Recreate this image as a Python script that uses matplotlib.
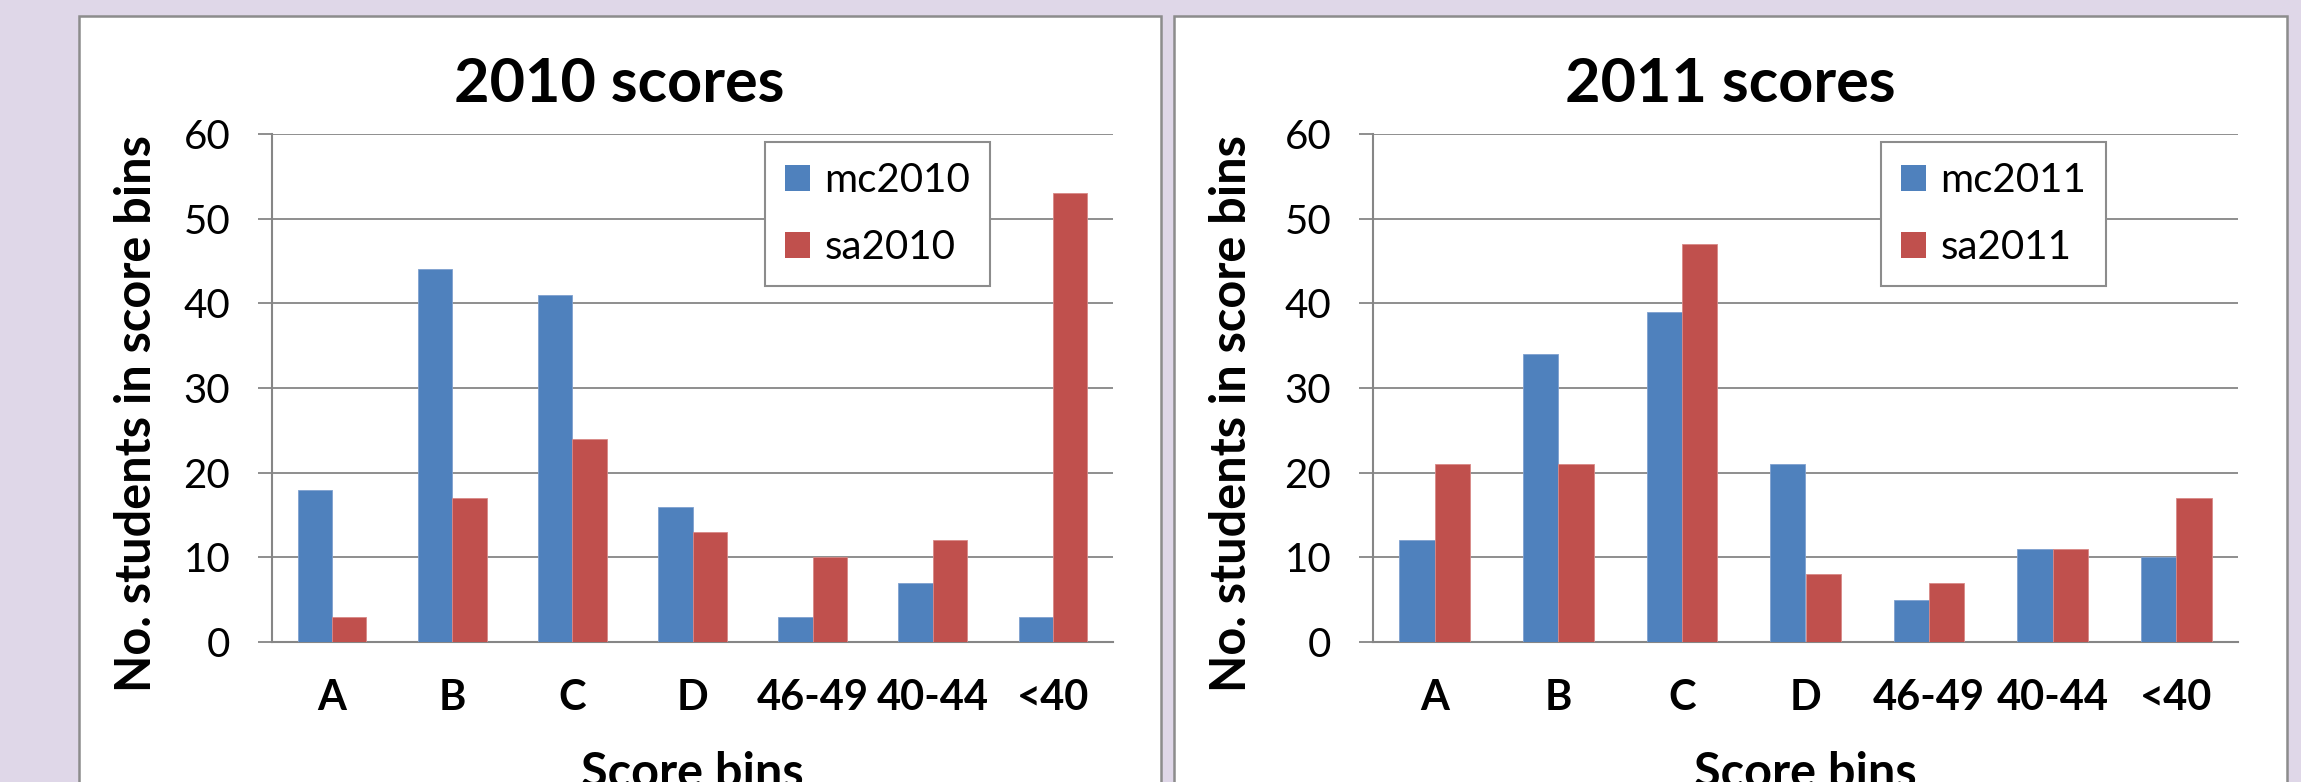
import numpy as np
import matplotlib
matplotlib.use("Agg")
import matplotlib.pyplot as plt
from matplotlib.patches import Rectangle, Patch

# Data
categories = ["A", "B", "C", "D", "46-49", "40-44", "<40"]
mc2010 = [18, 44, 41, 16, 3, 7, 3]
sa2010 = [3, 17, 24, 13, 10, 12, 53]
mc2011 = [12, 34, 39, 21, 5, 11, 10]
sa2011 = [21, 21, 47, 8, 7, 11, 17]
yticks = [0, 10, 20, 30, 40, 50, 60]

BLUE = "#4F81BD"
RED = "#C0504D"
GRID = "#868686"
BG = "#DFD7E8"

plt.rcParams['font.family'] = ['Lato', 'DejaVu Sans']

W, H = 2301, 782
fig = plt.figure(figsize=(W / 100, H / 100), dpi=100, facecolor=BG)


def px(x0, x1, y_top, y_bot):
    # figure-pixel box -> figure fraction [left, bottom, width, height]
    return [x0 / W, 1 - y_bot / H, (x1 - x0) / W, (y_bot - y_top) / H]


def add_panel(x0, x1):
    l, b, w, h = px(x0, x1, 15.5, H + 30)
    fig.patches.append(Rectangle((l, b), w, h, transform=fig.transFigure,
                                 facecolor="white", edgecolor="#8C8C8C",
                                 linewidth=1.8, zorder=-5))


def score_chart(rect, mc, sa, names, title, title_x, legend_xy, ylabel_x):
    ax = fig.add_axes(rect)
    ax.set_facecolor("none")
    x = np.arange(len(categories))
    w = 1 / 3.5
    ax.bar(x - w / 2, mc, w, color=BLUE, edgecolor="#7FA0CF", linewidth=0.6,
           label=names[0], zorder=3)
    ax.bar(x + w / 2, sa, w, color=RED, edgecolor="#D98886", linewidth=0.6,
           label=names[1], zorder=3)

    ax.set_xlim(-0.5, len(categories) - 0.5)
    ax.set_ylim(0, 60)
    ax.set_yticks(yticks)
    ax.set_xticks(x)
    ax.set_xticklabels(categories, fontsize=30, fontweight="bold")
    ax.tick_params(axis="x", length=0, pad=27)
    ax.tick_params(axis="y", length=10, width=1.3, color=GRID, pad=20,
                   labelsize=29)
    ax.yaxis.grid(True, color=GRID, linewidth=1.3, zorder=0)
    ax.set_axisbelow(True)
    for s in ["top", "right"]:
        ax.spines[s].set_visible(False)
    for s in ["left", "bottom"]:
        ax.spines[s].set_color(GRID)
        ax.spines[s].set_linewidth(1.5)

    ax.set_xlabel("Score bins", fontsize=35, fontweight="bold", labelpad=24)
    ax.set_ylabel("No. students in score bins", fontsize=35,
                  fontweight="bold")
    ax.yaxis.set_label_coords(ylabel_x, 0.45)

    fig.text(title_x / W, 1 - 84 / H, title, fontsize=44, fontweight="bold",
             ha="center", va="center")

    handles = [Patch(facecolor=BLUE), Patch(facecolor=RED)]
    leg = ax.legend(handles, names, loc="upper left",
                    bbox_to_anchor=(legend_xy[0] / W, 1 - legend_xy[1] / H),
                    bbox_transform=fig.transFigure, borderaxespad=0,
                    fontsize=29, handlelength=0.62, handleheight=0.62,
                    handletextpad=0.35, borderpad=0.5, labelspacing=0.75,
                    fancybox=False, framealpha=1)
    leg.get_frame().set_edgecolor("#8C8C8C")
    leg.get_frame().set_linewidth(1.5)
    return ax


add_panel(79, 1160.5)
add_panel(1173.5, 2287)

score_chart(px(272, 1113, 134, 642), mc2010, sa2010, ["mc2010", "sa2010"],
            "2010 scores", 619, (765, 142), -0.134)
score_chart(px(1373, 2238, 134, 642), mc2011, sa2011, ["mc2011", "sa2011"],
            "2011 scores", 1730, (1881, 142), -0.138)

fig.savefig("out.png", dpi=100, facecolor=BG)
